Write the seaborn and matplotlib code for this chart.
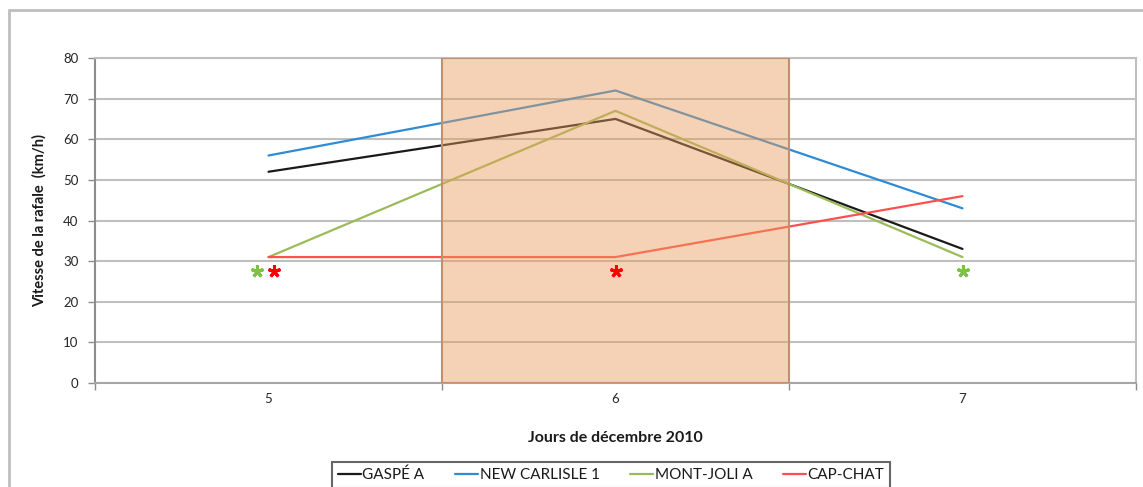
import matplotlib
matplotlib.use("Agg")
import matplotlib.pyplot as plt
import matplotlib.transforms as mtransforms
from matplotlib.patches import Rectangle
import seaborn as sns
import pandas as pd

days = [5, 6, 7]
gaspe = [52, 65, 33]
new_carlisle = [56, 72, 43]
mont_joli = [31, 67, 31]
cap_chat = [31, 31, 46]
series_names = ["GASPÉ A", "NEW CARLISLE 1", "MONT-JOLI A", "CAP-CHAT"]
series_colors = ["#1A1A1A", "#2E8BD6", "#9BBB59", "#FF4F4F"]

# asterisks (flagged values) : series, day
star_series = ["MONT-JOLI A", "CAP-CHAT", "CAP-CHAT", "MONT-JOLI A"]
star_days = [5, 5, 6, 7]
star_colors = ["#7DC242", "#FF0000", "#FF0000", "#7DC242"]
star_dx_pts = [-8, 4, 0, 0]

highlight_day = 6
y_ticks = [0, 10, 20, 30, 40, 50, 60, 70, 80]

sns.set_style("white")
plt.rcParams["font.family"] = ["Lato", "DejaVu Sans"]

values = {"GASPÉ A": gaspe, "NEW CARLISLE 1": new_carlisle,
          "MONT-JOLI A": mont_joli, "CAP-CHAT": cap_chat}
rows = []
for name in series_names:
    for d, v in zip(days, values[name]):
        rows.append({"day": d, "value": v, "station": name})
df = pd.DataFrame(rows)

fig = plt.figure(figsize=(11.43, 4.87), dpi=100)
ax = fig.add_axes([95 / 1143, 1 - 383 / 487, (1136 - 95) / 1143, (383 - 58) / 487])

# outer frame
fig.patches.append(Rectangle((9 / 1143, -0.02), 1.1, 1 - 10 / 487 + 0.02,
                             transform=fig.transFigure, fill=False,
                             edgecolor="#BFBFBF", linewidth=2, zorder=0))

ax.set_axisbelow(True)
ax.yaxis.grid(True, color="#BFBFBF", linewidth=1.5)

sns.lineplot(data=df, x="day", y="value", hue="station", hue_order=series_names,
             palette=series_colors, linewidth=1.6, ax=ax, legend=True, zorder=3)

# highlighted day band (semi-transparent overlay)
ax.axvspan(highlight_day - 0.5, highlight_day + 0.5, facecolor="#E99D5B", alpha=0.45,
           edgecolor="none", zorder=4)
ax.axvspan(highlight_day - 0.5, highlight_day + 0.5, facecolor="none",
           edgecolor="#C09070", linewidth=1.5, zorder=4)

# asterisks
for s, d, c, dx in zip(star_series, star_days, star_colors, star_dx_pts):
    v = values[s][days.index(d)]
    tr = mtransforms.offset_copy(ax.transData, fig=fig, x=dx, y=-10, units="points")
    ax.plot([d], [v], marker=(5, 2, 0), markersize=9, markeredgewidth=2.2,
            color=c, transform=tr, zorder=5, linestyle="none", clip_on=False)

ax.set_xlim(days[0] - 0.5, days[-1] + 0.5)
ax.set_ylim(y_ticks[0], y_ticks[-1])
ax.set_yticks(y_ticks)
ax.set_xticks(days)
ax.set_xticklabels([str(d) for d in days])
ax.set_xticks([d - 0.5 for d in days] + [days[-1] + 0.5], minor=True)
ax.tick_params(axis="x", which="major", length=0, pad=7, labelsize=9.5, labelcolor="#262626")
ax.tick_params(axis="x", which="minor", length=5, width=1, color="#8C8C8C", direction="out")
ax.tick_params(axis="y", length=5, width=1, color="#8C8C8C", direction="out", pad=7,
               labelsize=9.5, labelcolor="#262626")
ax.tick_params(bottom=True, left=True, which="both")

for side, col in [("left", "#8C8C8C"), ("bottom", "#A6A6A6"), ("right", "#BFBFBF"), ("top", "#BFBFBF")]:
    ax.spines[side].set_color(col)
    ax.spines[side].set_linewidth(1.5)

ax.set_xlabel("Jours de décembre 2010", fontsize=11.5, fontweight="bold", labelpad=19, color="#1A1A1A")
ax.set_ylabel("Vitesse de la rafale  (km/h)", fontsize=10.5, fontweight="bold", labelpad=12, color="#1A1A1A")

ax.get_legend().remove()
handles, labels = ax.get_legend_handles_labels()
leg = fig.legend(handles, labels, loc="upper center", bbox_to_anchor=(611 / 1143, 1 - 454 / 487),
                 ncol=4, frameon=True, fancybox=False, fontsize=11, handlelength=1.5,
                 handletextpad=0.1, columnspacing=2.0, borderpad=0.4)
leg.get_frame().set_edgecolor("#404040")
leg.get_frame().set_linewidth(1.5)
for t in leg.get_texts():
    t.set_color("#1A1A1A")

fig.savefig("out.png", dpi=100)
